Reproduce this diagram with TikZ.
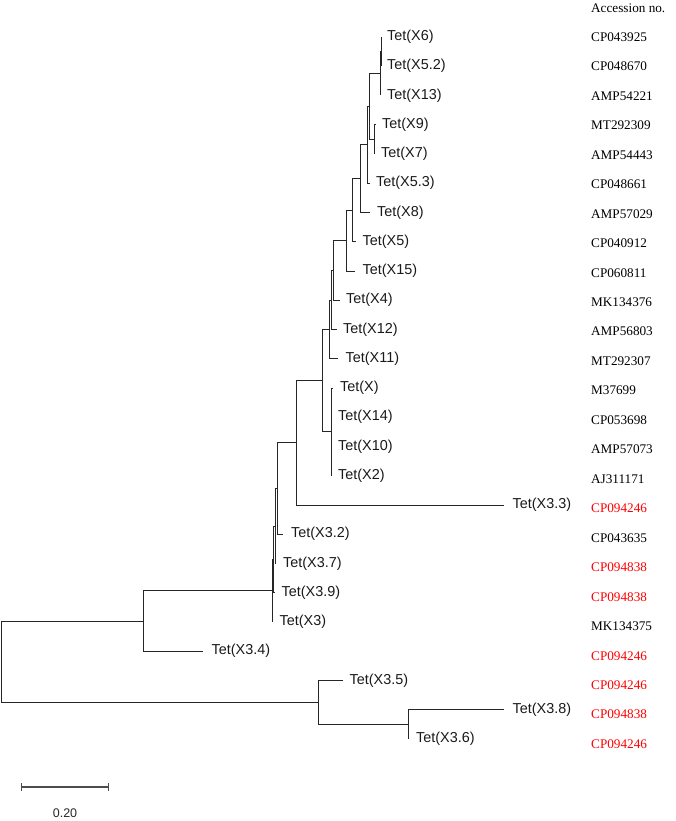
\documentclass[tikz,border=0pt]{standalone}
\usepackage{fontspec}
\setmainfont{Liberation Serif}
\setsansfont{Liberation Sans}
\begin{document}
\begin{tikzpicture}[x=1pt,y=1pt,
  branch/.style={draw=black!85, line width=0.9pt},
  leaf/.style={anchor=west, inner sep=0pt, text=black!90, font=\fontsize{14.4}{16}\selectfont\sffamily},
  acc/.style={anchor=west, inner sep=0pt, text=black, font=\fontsize{13.2}{15}\selectfont\rmfamily},
  accred/.style={acc, text=red},
  scalebar/.style={draw=black!70, line width=1.2pt}]
\useasboundingbox (0,0) rectangle (675,-821);
\begin{scope}[yshift=-37pt, y=-29.25pt]
  % internal nodes
  \coordinate (a)  at (381.5,0.5);
  \coordinate (A)  at (380.7,1.25);
  \coordinate (C)  at (374,3.5);
  \coordinate (B)  at (369,2.375);
  \coordinate (D)  at (367,3.6875);
  \coordinate (E)  at (360.5,4.84375);
  \coordinate (F)  at (352.7,5.921875);
  \coordinate (G)  at (346.7,6.9609375);
  \coordinate (H)  at (333.3,7.98046875);
  \coordinate (I)  at (331,8.990234);
  \coordinate (J)  at (329.3,9.995117);
  \coordinate (n7) at (331.7,13.5);
  \coordinate (n6) at (322.8,11.7475585);
  \coordinate (n5) at (296.3,13.87378);
  \coordinate (n4) at (277.5,15.43689);
  \coordinate (n3) at (275,16.718445);
  \coordinate (n2) at (273.5,17.859);
  \coordinate (n1) at (272.5,18.9296);
  \coordinate (L)  at (143.3,19.9648);
  \coordinate (N)  at (408.5,23.5);
  \coordinate (M)  at (318.3,22.75);
  \coordinate (root) at (1,21.3574);
  % leaves
  \foreach \n/\r/\tx/\lx/\lab/\ac/\st in {
    x6/0/381.5/387/X6/CP043925/acc,
    x52/1/381.5/387/X5.2/CP048670/acc,
    x13/2/380.7/387/X13/AMP54221/acc,
    x9/3/376/382/X9/MT292309/acc,
    x7/4/374/381/X7/AMP54443/acc,
    x53/5/370/376/X5.3/CP048661/acc,
    x8/6/370/377/X8/AMP57029/acc,
    x5/7/356/362.5/X5/CP040912/acc,
    x15/8/355/362.5/X15/CP060811/acc,
    x4/9/340/346/X4/MK134376/acc,
    x12/10/337/343/X12/AMP56803/acc,
    x11/11/338/345.5/X11/MT292307/acc,
    x0/12/333/340/X/M37699/acc,
    x14/13/331.7/338/X14/CP053698/acc,
    x10/14/331.7/338/X10/AMP57073/acc,
    x2/15/331.7/338/X2/AJ311171/acc,
    x33/16/503.5/512.5/X3.3/CP094246/accred,
    x32/17/283/291/X3.2/CP043635/acc,
    x37/18/276/283/X3.7/CP094838/accred,
    x39/19/274.5/281.5/X3.9/CP094838/accred,
    x3/20/272.5/279.5/X3/MK134375/acc,
    x34/21/203.3/211.5/X3.4/CP094246/accred,
    x35/22/343.3/349.5/X3.5/CP094246/accred,
    x38/23/504.3/512.5/X3.8/CP094838/accred,
    x36/24/408.5/416/X3.6/CP094246/accred}{
    \coordinate (t\n) at (\tx,\r);
    \node[leaf] (l\n) at (\lx,\r) {Tet(\lab)};
    \node[\st] (a\n) at (591,{\r*1.0072}) {\ac};
  }
  \node[acc] (head) at (591,-1) {Accession no.};
  % branches
  \draw[branch] (a) |- (tx6);
  \draw[branch] (a) |- (tx52);
  \draw[branch] (A) |- (a);
  \draw[branch] (A) |- (tx13);
  \draw[branch] (C) |- (tx9);
  \draw[branch] (C) |- (tx7);
  \draw[branch] (B) |- (A);
  \draw[branch] (B) |- (C);
  \draw[branch] (D) |- (B);
  \draw[branch] (D) |- (tx53);
  \draw[branch] (E) |- (D);
  \draw[branch] (E) |- (tx8);
  \draw[branch] (F) |- (E);
  \draw[branch] (F) |- (tx5);
  \draw[branch] (G) |- (F);
  \draw[branch] (G) |- (tx15);
  \draw[branch] (H) |- (G);
  \draw[branch] (H) |- (tx4);
  \draw[branch] (I) |- (H);
  \draw[branch] (I) |- (tx12);
  \draw[branch] (J) |- (I);
  \draw[branch] (J) |- (tx11);
  \draw[branch] (n7) |- (tx0);
  \draw[branch] (n7) |- (tx14);
  \draw[branch] (n7) |- (tx10);
  \draw[branch] (n7) |- (tx2);
  \draw[branch] (n6) |- (J);
  \draw[branch] (n6) |- (n7);
  \draw[branch] (n5) |- (n6);
  \draw[branch] (n5) |- (tx33);
  \draw[branch] (n4) |- (n5);
  \draw[branch] (n4) |- (tx32);
  \draw[branch] (n3) |- (n4);
  \draw[branch] (n3) |- (tx37);
  \draw[branch] (n2) |- (n3);
  \draw[branch] (n2) |- (tx39);
  \draw[branch] (n1) |- (n2);
  \draw[branch] (n1) |- (tx3);
  \draw[branch] (L) |- (n1);
  \draw[branch] (L) |- (tx34);
  \draw[branch] (N) |- (tx38);
  \draw[branch] (N) |- (tx36);
  \draw[branch] (M) |- (tx35);
  \draw[branch] (M) |- (N);
  \draw[branch] (root) |- (L);
  \draw[branch] (root) |- (M);
\end{scope}
% scale bar
\coordinate (sb1) at (21,-787);
\coordinate (sb2) at (108,-787);
\draw[scalebar] (sb1) -- (sb2);
\draw[scalebar, line width=1pt] ([yshift=4pt]sb1) -- ([yshift=-4pt]sb1);
\draw[scalebar, line width=1pt] ([yshift=4pt]sb2) -- ([yshift=-4pt]sb2);
\node[inner sep=0pt, font=\fontsize{12.5}{14}\selectfont\sffamily, text=black!85] (sblab) at (65,-813) {0.20};
\end{tikzpicture}
\end{document}
